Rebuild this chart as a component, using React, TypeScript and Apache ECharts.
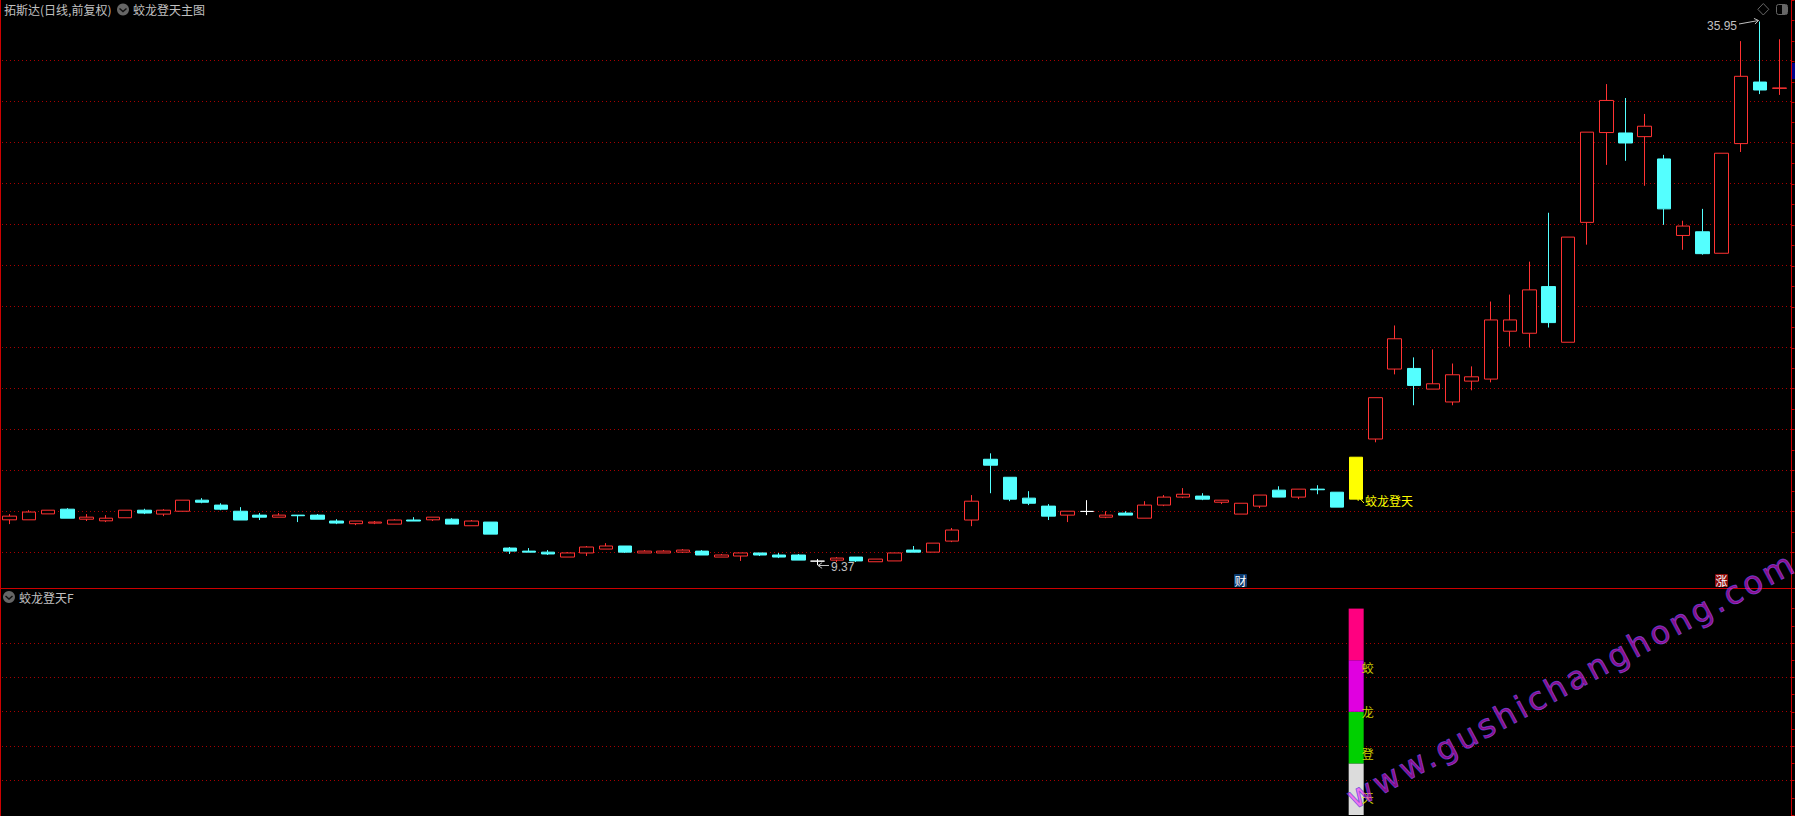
import React, { useEffect, useRef } from "react";
import * as echarts from "echarts";

const opens = [
  11.59, 11.59, 11.88, 12.11, 11.62, 11.54, 11.69, 12.06, 11.87, 12.01,
  12.55, 12.31, 12.01, 11.82, 11.72, 11.82, 11.82, 11.53, 11.40, 11.43,
  11.38, 11.58, 11.59, 11.62, 11.30, 11.48, 10.21, 10.06, 10.01, 9.77,
  9.97, 10.16, 10.31, 9.97, 9.97, 10.01, 10.06, 9.77, 9.82, 9.97,
  9.87, 9.87, 9.57, 9.62, 9.77, 9.54, 9.58, 10.11, 10.01, 10.55,
  11.58, 14.55, 13.67, 12.65, 12.26, 11.82, 12.00, 11.72, 11.92, 11.67,
  12.31, 12.70, 12.75, 12.45, 11.87, 12.26, 13.04, 12.70, 13.09, 12.94,
  12.60, 15.54, 18.96, 18.99, 17.98, 17.35, 18.37, 18.47, 20.81, 20.71,
  22.99, 20.27, 26.13, 30.52, 30.50, 30.32, 29.23, 25.49, 25.67, 24.62,
  29.98, 32.99, 32.68,
];
const closes = [
  11.77, 11.97, 12.06, 11.67, 11.72, 11.67, 12.06, 11.92, 12.06, 12.55,
  12.45, 12.11, 11.58, 11.72, 11.82, 11.79, 11.62, 11.43, 11.53, 11.48,
  11.58, 11.53, 11.72, 11.38, 11.53, 10.89, 10.06, 10.01, 9.92, 9.97,
  10.26, 10.31, 10.01, 10.06, 10.06, 10.11, 9.87, 9.87, 9.97, 9.87,
  9.77, 9.62, 9.57, 9.72, 9.58, 9.67, 9.97, 10.01, 10.45, 11.09,
  12.50, 14.26, 12.60, 12.40, 11.77, 12.01, 12.00, 11.82, 11.82, 12.31,
  12.70, 12.84, 12.60, 12.55, 12.40, 12.80, 12.70, 13.09, 13.06, 12.21,
  14.65, 17.56, 20.44, 18.16, 18.24, 18.68, 18.58, 21.36, 21.36, 22.83,
  21.23, 25.41, 30.54, 32.09, 30.01, 30.83, 26.79, 25.95, 24.60, 29.51,
  33.27, 32.60, 32.70,
];
const lows = [
  11.38, 11.59, 11.88, 11.67, 11.53, 11.48, 11.69, 11.87, 11.77, 12.01,
  12.40, 12.06, 11.58, 11.58, 11.72, 11.48, 11.62, 11.38, 11.33, 11.38,
  11.38, 11.53, 11.53, 11.38, 11.30, 10.89, 9.92, 10.01, 9.87, 9.77,
  9.82, 10.16, 9.97, 9.97, 9.97, 9.97, 9.87, 9.77, 9.58, 9.82,
  9.72, 9.62, 9.37, 9.53, 9.53, 9.54, 9.58, 10.01, 10.01, 10.50,
  11.28, 12.89, 12.50, 12.31, 11.58, 11.48, 11.82, 11.67, 11.82, 11.67,
  12.26, 12.65, 12.55, 12.36, 11.87, 12.16, 12.70, 12.60, 12.84, 12.21,
  12.60, 15.38, 18.70, 17.19, 17.98, 17.19, 17.92, 18.31, 20.06, 20.01,
  20.99, 20.27, 25.04, 28.94, 29.14, 27.92, 26.01, 24.79, 24.55, 24.62,
  29.57, 32.40, 32.36,
];
const highs = [
  11.87, 12.06, 12.06, 12.16, 11.87, 11.82, 12.06, 12.13, 12.11, 12.55,
  12.65, 12.40, 12.21, 11.92, 11.92, 11.82, 11.87, 11.62, 11.53, 11.53,
  11.62, 11.72, 11.72, 11.67, 11.58, 11.48, 10.26, 10.21, 10.11, 10.01,
  10.31, 10.45, 10.31, 10.11, 10.11, 10.16, 10.11, 9.92, 9.97, 9.97,
  9.97, 9.92, 9.67, 9.77, 9.77, 9.67, 9.97, 10.31, 10.45, 11.19,
  12.80, 14.84, 13.67, 12.99, 12.36, 12.01, 12.55, 12.01, 12.01, 12.50,
  12.80, 13.14, 12.89, 12.55, 12.40, 12.80, 13.23, 13.09, 13.28, 12.94,
  14.65, 17.56, 21.09, 19.53, 19.92, 19.23, 19.09, 22.26, 22.60, 24.21,
  26.60, 25.41, 30.54, 32.89, 32.21, 31.43, 29.43, 26.21, 26.79, 29.51,
  34.99, 35.95, 35.08,
];
const categories = opens.map((_, i) => String(i + 1));

const whiteDojiIndexes = [42, 56];
const signalIndex = 70;

const signalSegments = [30, 30, 30, 30];
const signalColors = ["#dcdcdc", "#00d000", "#e000e0", "#ff0080"];
const signalLabels = [
  { char: "蛟", value: 85.5 },
  { char: "龙", value: 60 },
  { char: "登", value: 35.5 },
  { char: "天", value: 10.3 },
];

const titleText = "拓斯达(日线,前复权)";
const mainIndicator = "蛟龙登天主图";
const subIndicator = "蛟龙登天F";
const highLabel = "35.95";
const lowLabel = "9.37";
const signalName = "蛟龙登天";
const watermark = "www.gushichanghong.com";

const FONT = '"Noto Sans CJK SC", "Liberation Sans", sans-serif';
const GRID_RED = "#a80000";
const FRAME_RED = "#cc0000";
const UP_RED = "#ff3232";
const DOWN_CYAN = "#54ffff";
const GRAY = "#c0c0c0";

const plotLeft = -0.3;
const plotWidth = 1789.3;

function chevronIcon(cx: number, cy: number) {
  return [
    { type: "circle", shape: { cx, cy, r: 6 }, style: { fill: "#666666" } },
    {
      type: "polyline",
      shape: { points: [[cx - 3.5, cy - 1], [cx, cy + 2], [cx + 3.5, cy - 1]] },
      style: { stroke: "#111111", lineWidth: 1.5, fill: "none" },
    },
  ];
}

function text(x: number, y: number, t: string, fill: string, extra: any = {}) {
  return {
    type: "text",
    x,
    y,
    style: { text: t, fill, font: `12px ${FONT}`, textVerticalAlign: "middle", ...extra },
  };
}

function arrow(x1: number, y1: number, x2: number, y2: number, color: string) {
  const a = Math.atan2(y2 - y1, x2 - x1);
  const h = 5;
  return [
    { type: "line", shape: { x1, y1, x2, y2 }, style: { stroke: color, lineWidth: 1 } },
    {
      type: "polyline",
      shape: {
        points: [
          [x2 - h * Math.cos(a - 0.6), y2 - h * Math.sin(a - 0.6)],
          [x2, y2],
          [x2 - h * Math.cos(a + 0.6), y2 - h * Math.sin(a + 0.6)],
        ],
      },
      style: { stroke: color, lineWidth: 1, fill: "none" },
    },
  ];
}

function badge(x: number, y: number, t: string, bg: string) {
  return [
    { type: "rect", shape: { x, y, width: 13, height: 13, r: 1 }, style: { fill: bg } },
    {
      type: "text",
      x: x + 0.5,
      y: y + 0.5,
      style: { text: t, fill: "#ffffff", font: `12px ${FONT}` },
    },
  ];
}

function frameLine(x1: number, y1: number, x2: number, y2: number) {
  return { type: "line", shape: { x1, y1, x2, y2 }, style: { stroke: FRAME_RED, lineWidth: 1 } };
}

export default function App() {
  const ref = useRef<HTMLDivElement>(null);
  useEffect(() => {
    if (!ref.current) return;
    document.body.style.margin = "0";
    document.body.style.background = "#000";
    const chart = echarts.init(ref.current, undefined, { renderer: "svg" });

    const candleData = categories.map((_, i) => {
      const value = [opens[i], closes[i], lows[i], highs[i]];
      if (whiteDojiIndexes.includes(i)) {
        return {
          value,
          itemStyle: {
            color: "#ffffff", color0: "#ffffff", borderColor: "#ffffff",
            borderColor0: "#ffffff", borderColorDoji: "#ffffff",
          },
        };
      }
      if (i === signalIndex) {
        return {
          value,
          itemStyle: { color: "#ffff00", color0: "#ffff00", borderColor: "#ffff00", borderColor0: "#ffff00" },
        };
      }
      return { value };
    });

    const hiddenX = (gridIndex: number) => ({
      type: "category" as const,
      gridIndex,
      data: categories,
      show: false,
      boundaryGap: true,
    });

    const dotted = { show: true, lineStyle: { color: GRID_RED, type: [1, 3] as any, width: 1 } };

    chart.setOption({
      animation: false,
      backgroundColor: "#000000",
      tooltip: { show: false },
      textStyle: { fontFamily: FONT },
      grid: [
        { left: plotLeft, width: plotWidth, top: -1.2, height: 574 },
        { left: 2, width: 1789, top: 60.3, height: 492 },
        { left: plotLeft, width: plotWidth, top: 608.6, height: 206.4 },
        { left: 2, width: 1789, top: 642.8, height: 137.6 },
      ],
      xAxis: [hiddenX(0), hiddenX(1), hiddenX(2), hiddenX(3)],
      yAxis: [
        {
          type: "value", gridIndex: 0, position: "right", offset: 2.5, min: 9, max: 37, interval: 1,
          splitLine: { show: false }, axisLabel: { show: false },
          axisLine: { show: false },
          axisTick: { show: true, length: 3, lineStyle: { color: FRAME_RED } },
        },
        {
          type: "value", gridIndex: 1, min: 10, max: 34, interval: 2,
          splitLine: dotted, axisLabel: { show: false }, axisLine: { show: false }, axisTick: { show: false },
        },
        {
          type: "value", gridIndex: 2, position: "right", offset: 2.5, min: 0, max: 120, interval: 10,
          splitLine: { show: false }, axisLabel: { show: false },
          axisLine: { show: false },
          axisTick: { show: true, length: 3, lineStyle: { color: FRAME_RED } },
        },
        {
          type: "value", gridIndex: 3, min: 20, max: 100, interval: 20,
          splitLine: dotted, axisLabel: { show: false }, axisLine: { show: false }, axisTick: { show: false },
        },
      ],
      series: [
        {
          type: "candlestick",
          xAxisIndex: 0,
          yAxisIndex: 0,
          barWidth: 14,
          clip: false,
          data: candleData,
          itemStyle: {
            color: "#000000", color0: DOWN_CYAN, borderColor: UP_RED, borderColor0: DOWN_CYAN,
            borderColorDoji: UP_RED, borderWidth: 1,
          },
        },
        ...signalSegments.map((v, s) => ({
          type: "bar",
          xAxisIndex: 2,
          yAxisIndex: 2,
          stack: "signal",
          barWidth: 15,
          data: categories.map((_, i) => (i === signalIndex ? v : null)),
          itemStyle: { color: signalColors[s] },
        })),
        {
          type: "scatter",
          xAxisIndex: 2,
          yAxisIndex: 2,
          symbolSize: 0,
          z: 5,
          data: signalLabels.map((l) => ({ name: l.char, value: [signalIndex, l.value] })),
          label: {
            show: true,
            position: "inside",
            offset: [11.5, 0],
            formatter: (p: any) => p.name,
            color: "#ffff00",
            fontSize: 12,
            fontFamily: FONT,
          },
        },
      ],
      graphic: [
        frameLine(0.5, 0, 0.5, 816),
        frameLine(0, 588.5, 1795, 588.5),
        frameLine(1791.5, 0, 1791.5, 816),
        text(4, 9, titleText, GRAY),
        ...chevronIcon(123, 9.5),
        text(133, 9, mainIndicator, GRAY),
        ...chevronIcon(9, 597),
        text(19, 597.5, subIndicator, GRAY),
        {
          type: "polygon",
          shape: { points: [[1763.3, 3.5], [1768.8, 9.3], [1763.3, 15], [1757.8, 9.3]] },
          style: { stroke: "#666666", fill: "none", lineWidth: 1 },
        },
        {
          type: "rect",
          shape: { x: 1776.5, y: 4.5, width: 11, height: 10, r: 2 },
          style: { stroke: "#666666", fill: "none", lineWidth: 1 },
        },
        {
          type: "rect",
          shape: { x: 1782, y: 5, width: 5, height: 9 },
          style: { fill: "#666666" },
        },
        text(1707, 25.5, highLabel, GRAY, { font: '12px "Liberation Sans", sans-serif' }),
        ...arrow(1739, 24, 1758.5, 20.5, GRAY),
        text(831, 566.5, lowLabel, GRAY, { font: '12px "Liberation Sans", sans-serif' }),
        ...arrow(829, 565.5, 818, 565.5, GRAY),
        text(1365, 500.5, signalName, "#ffff00"),
        ...arrow(1364, 503, 1357.5, 496, "#ffff00"),
        ...badge(1234, 574, "财", "#0a3a6e"),
        ...badge(1715, 574, "涨", "#8a0c0c"),
        { type: "rect", shape: { x: 1792, y: 63, width: 3, height: 16 }, style: { fill: "#00008a" } },
        {
          type: "text",
          rotation: (28.3 * Math.PI) / 180,
          x: 1349,
          y: 800,
          z: 100,
          style: {
            text: watermark,
            font: '32px "DejaVu Sans", sans-serif',
            fill: "rgba(255,32,255,0.55)",
            stroke: "rgba(60,80,200,0.8)",
            lineWidth: 0.9,
            textVerticalAlign: "middle",
          },
        },
      ],
    });

    // ECharts text has no letter spacing, so the watermark's SVG text node gets it directly.
    ref.current.querySelectorAll("text").forEach((node) => {
      if (node.textContent === watermark) {
        (node as SVGTextElement).style.letterSpacing = "3.5px";
      }
    });

    return () => chart.dispose();
  }, []);
  return (
    <div style={{ position: "fixed", left: 0, top: 0, width: 1795, height: 816, background: "#000" }}>
      <div ref={ref} style={{ width: 1795, height: 816 }} />
    </div>
  );
}
